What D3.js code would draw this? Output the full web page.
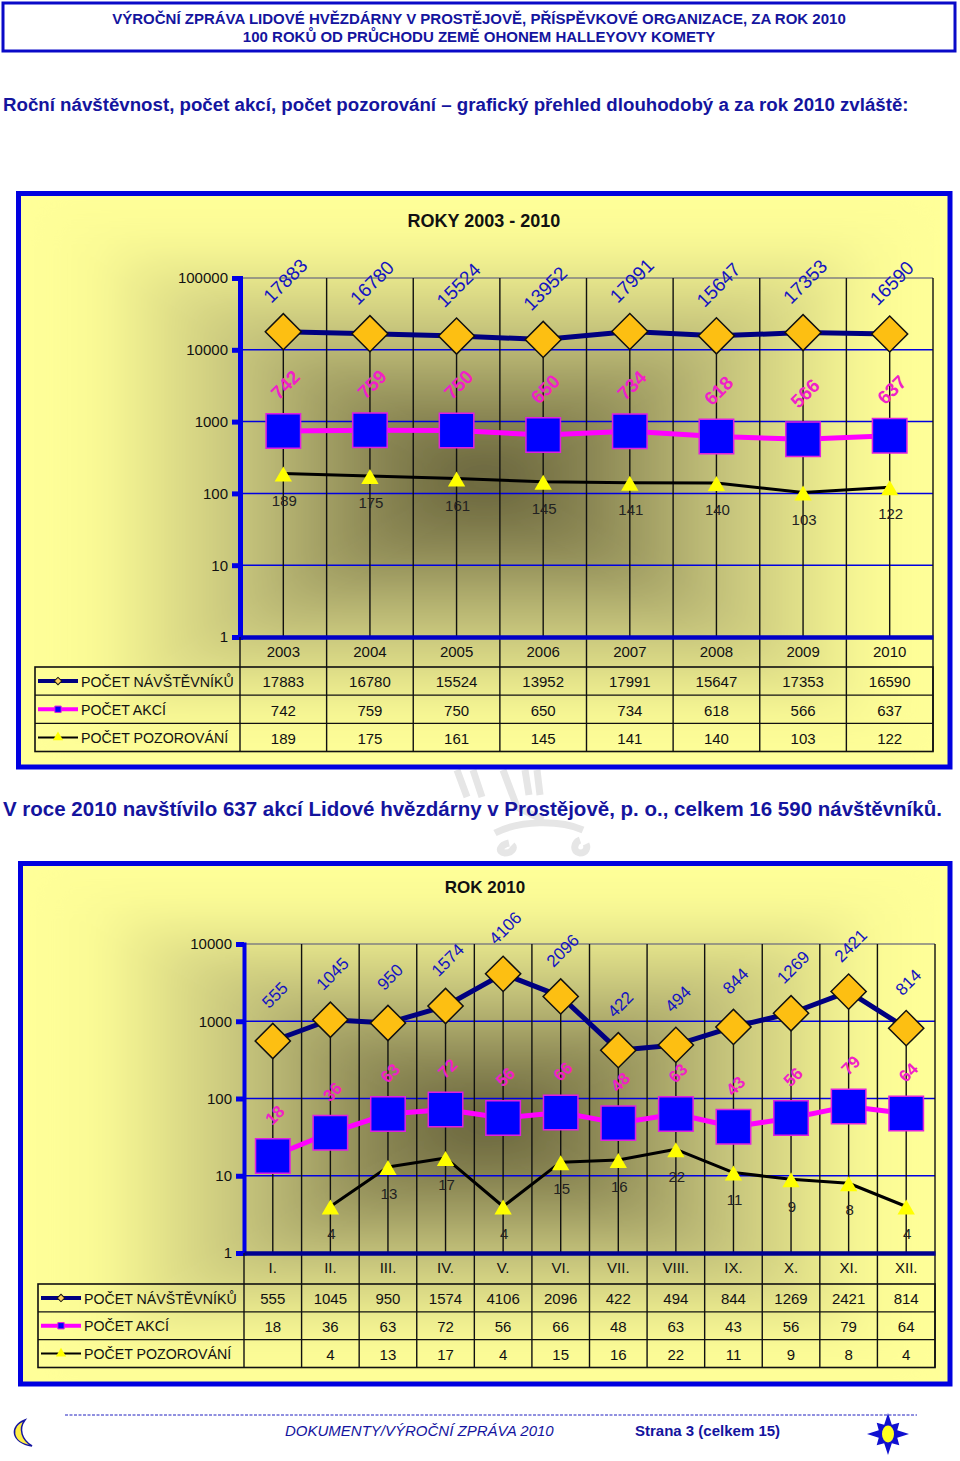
<!DOCTYPE html>
<html>
<head>
<meta charset="utf-8">
<script src="https://cdn.jsdelivr.net/npm/d3@7"></script>
<style>
  body { margin: 0; background: #fff; }
  svg { display: block; }
  text { font-family: "Liberation Sans", Arial, sans-serif; }
</style>
</head>
<body>
<div id="page"></div>
<script>
// roky 2003 - 2010
var years = ["2003", "2004", "2005", "2006", "2007", "2008", "2009", "2010"];
var yearVisitors = [17883, 16780, 15524, 13952, 17991, 15647, 17353, 16590];
var yearEvents = [742, 759, 750, 650, 734, 618, 566, 637];
var yearObservations = [189, 175, 161, 145, 141, 140, 103, 122];
var yearTicks = [1, 10, 100, 1000, 10000, 100000];

// rok 2010
var months = ["I.", "II.", "III.", "IV.", "V.", "VI.", "VII.", "VIII.", "IX.", "X.", "XI.", "XII."];
var monthVisitors = [555, 1045, 950, 1574, 4106, 2096, 422, 494, 844, 1269, 2421, 814];
var monthEvents = [18, 36, 63, 72, 56, 66, 48, 63, 43, 56, 79, 64];
var monthObservations = [null, 4, 13, 17, 4, 15, 16, 22, 11, 9, 8, 4];
var monthTicks = [1, 10, 100, 1000, 10000];

var seriesNames = ["POČET NÁVŠTĚVNÍKŮ", "POČET AKCÍ", "POČET POZOROVÁNÍ"];

var blue = "#0000e6";
var textBlue = "#14149e";

var svg = d3.select("#page").append("svg")
  .attr("width", 960)
  .attr("height", 1461);
var defs = svg.append("defs");

var blur = defs.append("filter")
  .attr("id", "soft")
  .attr("filterUnits", "userSpaceOnUse")
  .attr("x", 0).attr("y", 0).attr("width", 960).attr("height", 1461);
blur.append("feGaussianBlur").attr("stdDeviation", 22);

// hlavicka
svg.append("rect")
  .attr("x", 3).attr("y", 3).attr("width", 952).attr("height", 48)
  .attr("fill", "white").attr("stroke", "#0a0ac8").attr("stroke-width", 3);
svg.append("text").attr("x", 479).attr("y", 24).attr("text-anchor", "middle")
  .attr("font-size", 15).attr("font-weight", "bold").attr("fill", textBlue)
  .text("VÝROČNÍ ZPRÁVA LIDOVÉ HVĚZDÁRNY V PROSTĚJOVĚ, PŘÍSPĚVKOVÉ ORGANIZACE, ZA ROK 2010");
svg.append("text").attr("x", 479).attr("y", 42).attr("text-anchor", "middle")
  .attr("font-size", 15).attr("font-weight", "bold").attr("fill", textBlue)
  .text("100 ROKŮ OD PRŮCHODU ZEMĚ OHONEM HALLEYOVY KOMETY");

svg.append("text").attr("x", 3).attr("y", 111)
  .attr("font-size", 18.7).attr("font-weight", "bold").attr("fill", textBlue)
  .text("Roční návštěvnost, počet akcí, počet pozorování – grafický přehled dlouhodobý a za rok 2010 zvláště:");

// vodoznak mezi panely
svg.append("path")
  .attr("d", "M457,770 L467,797 M473,770 L482,797 M503,770 L517,807 L543,820 M525,770 L529,795 M537,770 L540,795 M495,833 C520,820 560,820 583,830 M509,843 C500,845 497,852 505,853 C512,853 515,848 512,845 M580,840 C574,842 572,852 580,853 C586,853 588,848 586,844")
  .attr("fill", "none").attr("stroke", "#e6e6e6").attr("stroke-width", 7);

svg.append("text").attr("x", 3).attr("y", 816)
  .attr("font-size", 20.5).attr("font-weight", "bold").attr("fill", textBlue)
  .text("V roce 2010 navštívilo 637 akcí Lidové hvězdárny v Prostějově, p. o., celkem 16 590 návštěvníků.");

// panel with a gradient running from the centre to all four edges
function drawPanel(id, x0, y0, x1, y1) {
  var cx = (x0 + x1) / 2, cy = (y0 + y1) / 2;
  var sides = [
    [[x0, y0], [x1, y0], [cx, y0]],
    [[x1, y0], [x1, y1], [x1, cy]],
    [[x1, y1], [x0, y1], [cx, y1]],
    [[x0, y1], [x0, y0], [x0, cy]]
  ];
  defs.append("clipPath").attr("id", id + "Clip").append("rect")
    .attr("x", x0).attr("y", y0).attr("width", x1 - x0).attr("height", y1 - y0);
  svg.append("rect")
    .attr("x", x0).attr("y", y0).attr("width", x1 - x0).attr("height", y1 - y0)
    .attr("fill", "#ffff99");
  var shade = svg.append("g").attr("clip-path", "url(#" + id + "Clip)")
    .append("g").attr("filter", "url(#soft)");
  sides.forEach(function(s, i) {
    var grad = defs.append("linearGradient")
      .attr("id", id + i)
      .attr("gradientUnits", "userSpaceOnUse")
      .attr("x1", s[2][0]).attr("y1", s[2][1])
      .attr("x2", cx).attr("y2", cy);
    grad.append("stop").attr("offset", 0).attr("stop-color", "#ffff99");
    grad.append("stop").attr("offset", 0.16).attr("stop-color", "#fcfc96");
    grad.append("stop").attr("offset", 0.5).attr("stop-color", "#c2c07a");
    grad.append("stop").attr("offset", 0.75).attr("stop-color", "#8e8a56");
    grad.append("stop").attr("offset", 1).attr("stop-color", "#625e38");
    shade.append("polygon")
      .attr("points", [s[0], s[1], [cx, cy]].join(" "))
      .attr("fill", "url(#" + id + i + ")");
  });
  svg.append("rect")
    .attr("x", x0).attr("y", y0).attr("width", x1 - x0).attr("height", y1 - y0)
    .attr("fill", "none").attr("stroke", "#0000e0").attr("stroke-width", 5);
}

function drawChart(c) {
  drawPanel(c.id, c.panel[0], c.panel[1], c.panel[2], c.panel[3]);

  svg.append("text")
    .attr("x", c.titleX).attr("y", c.titleY).attr("text-anchor", "middle")
    .attr("font-size", c.titleSize).attr("font-weight", "bold").attr("fill", "#111")
    .text(c.title);

  var x = d3.scaleBand().domain(c.categories).range([c.left, c.right]);
  var y = d3.scaleLog().domain([1, c.ticks[c.ticks.length - 1]]).range([c.bottom, c.top]);
  var mid = function(d) { return x(d) + x.bandwidth() / 2; };

  var series = [
    { values: c.visitors, color: "#000080", width: 5 },
    { values: c.events, color: "#ff00ff", width: 5 },
    { values: c.observations, color: "#000", width: 3 }
  ];

  // mrizka
  svg.append("g").selectAll("line")
    .data(c.ticks.slice(1))
    .join("line")
    .attr("x1", c.left).attr("x2", c.right)
    .attr("y1", d => y(d)).attr("y2", d => y(d))
    .attr("stroke", (d, i) => i === c.ticks.length - 2 ? "#808080" : "#0000e0")
    .attr("stroke-width", 1.5);

  var edges = c.categories.map(d => x(d) + x.bandwidth());
  svg.append("g").selectAll("line")
    .data(edges)
    .join("line")
    .attr("x1", d => d).attr("x2", d => d)
    .attr("y1", c.top).attr("y2", c.tableBottom)
    .attr("stroke", "#111").attr("stroke-width", 1.4);

  // drop lines from the top series to the axis
  svg.append("g").selectAll("line")
    .data(c.categories)
    .join("line")
    .attr("x1", d => mid(d)).attr("x2", d => mid(d))
    .attr("y1", (d, i) => y(c.visitors[i])).attr("y2", c.bottom)
    .attr("stroke", "#111").attr("stroke-width", 1.4);

  // osy
  var yAxis = svg.append("g")
    .attr("transform", "translate(" + c.left + ",0)")
    .call(d3.axisLeft(y).tickValues(c.ticks).tickFormat(d3.format("d")).tickSize(8).tickPadding(4));
  yAxis.select(".domain").attr("stroke", blue).attr("stroke-width", c.axisWidth);
  yAxis.selectAll(".tick line").attr("stroke", blue).attr("stroke-width", 5);
  yAxis.selectAll(".tick text").attr("font-size", c.tickSize).attr("fill", "#111")
    .style("font-family", '"Liberation Sans", Arial, sans-serif');

  var xAxis = svg.append("g")
    .attr("transform", "translate(0," + c.bottom + ")")
    .call(d3.axisBottom(x).tickSize(0).tickPadding(c.catPad));
  xAxis.select(".domain").attr("stroke", c.baseColor).attr("stroke-width", 4.5);
  xAxis.selectAll(".tick text").attr("font-size", c.cellSize).attr("fill", "#111")
    .style("font-family", '"Liberation Sans", Arial, sans-serif');

  // rady
  series.forEach(function(s) {
    var line = d3.line()
      .defined(d => d != null)
      .x((d, i) => mid(c.categories[i]))
      .y(d => y(d));
    svg.append("path")
      .attr("d", line(s.values))
      .attr("fill", "none")
      .attr("stroke", s.color)
      .attr("stroke-width", s.width)
      .attr("stroke-linejoin", "round");
  });

  var place = function(v, i) { return "translate(" + mid(c.categories[i]) + "," + y(v) + ")"; };

  svg.append("g").selectAll("path")
    .data(c.visitors)
    .join("path")
    .attr("d", d3.symbol(d3.symbolSquare, c.diamond))
    .attr("transform", (d, i) => place(d, i) + " rotate(45)")
    .attr("fill", "#fdbf12").attr("stroke", "#111").attr("stroke-width", 1.5);

  svg.append("g").selectAll("path")
    .data(c.events)
    .join("path")
    .attr("d", d3.symbol(d3.symbolSquare, c.square))
    .attr("transform", place)
    .attr("fill", "#0000ff").attr("stroke", "#e020e0").attr("stroke-width", 1.5);

  // missing months stay empty
  var observed = c.observations
    .map((d, i) => ({ v: d, cat: c.categories[i] }))
    .filter(d => d.v != null);

  svg.append("g").selectAll("path")
    .data(observed)
    .join("path")
    .attr("d", d3.symbol(d3.symbolTriangle, c.triangle))
    .attr("transform", d => "translate(" + mid(d.cat) + "," + (y(d.v) + 3) + ")")
    .attr("fill", "#ffff00");

  // popisky
  svg.append("g").selectAll("text")
    .data(c.visitors)
    .join("text")
    .attr("transform", (d, i) => "translate(" + (mid(c.categories[i]) + 2) + "," + (y(d) - c.offsets[0]) + ") rotate(-45)")
    .attr("text-anchor", "middle").attr("dy", "0.35em")
    .attr("font-size", c.labelSize).attr("fill", "#1414c0")
    .text(d => d);

  svg.append("g").selectAll("text")
    .data(c.events)
    .join("text")
    .attr("transform", (d, i) => "translate(" + (mid(c.categories[i]) + 2) + "," + (y(d) - c.offsets[1]) + ") rotate(-45)")
    .attr("text-anchor", "middle").attr("dy", "0.35em")
    .attr("font-size", c.labelSize).attr("fill", "#f020c8").attr("font-weight", "bold")
    .text(d => d);

  svg.append("g").selectAll("text")
    .data(observed)
    .join("text")
    .attr("x", d => mid(d.cat) + 1)
    .attr("y", d => y(d.v) + c.offsets[2])
    .attr("text-anchor", "middle").attr("dy", "0.35em")
    .attr("font-size", c.cellSize).attr("fill", "#222")
    .text(d => d.v);

  // tabulka pod grafem
  var rowY = d3.scaleBand().domain([0, 1, 2]).range([c.tableTop, c.tableBottom]);
  var table = svg.append("g");
  table.append("rect")
    .attr("x", c.tableLeft).attr("y", c.tableTop)
    .attr("width", c.right - c.tableLeft).attr("height", c.tableBottom - c.tableTop)
    .attr("fill", "none").attr("stroke", "#111").attr("stroke-width", 1.6);
  table.selectAll(".row")
    .data([1, 2])
    .join("line")
    .attr("x1", c.tableLeft).attr("x2", c.right)
    .attr("y1", d => rowY(d)).attr("y2", d => rowY(d))
    .attr("stroke", "#111").attr("stroke-width", 1.4);
  table.append("line")
    .attr("x1", c.left).attr("x2", c.left)
    .attr("y1", c.bottom).attr("y2", c.tableBottom)
    .attr("stroke", "#111").attr("stroke-width", 1.4);

  series.forEach(function(s, r) {
    var cy = rowY(r) + rowY.bandwidth() / 2;
    var g = table.append("g");
    g.append("line")
      .attr("x1", c.tableLeft + 3).attr("x2", c.tableLeft + 43)
      .attr("y1", cy).attr("y2", cy)
      .attr("stroke", s.color).attr("stroke-width", s.width - 1);
    var sym = g.append("path")
      .attr("transform", "translate(" + (c.tableLeft + 23) + "," + cy + ")" + (r === 0 ? " rotate(45)" : ""));
    if (r === 0) {
      sym.attr("d", d3.symbol(d3.symbolSquare, 28)).attr("fill", "#fdd060").attr("stroke", "#111");
    } else if (r === 1) {
      sym.attr("d", d3.symbol(d3.symbolSquare, 40)).attr("fill", "#0000ff").attr("stroke", "#e020e0");
    } else {
      sym.attr("d", d3.symbol(d3.symbolTriangle, 45)).attr("fill", "#ffff00");
    }
    g.append("text")
      .attr("x", c.tableLeft + 46).attr("y", cy).attr("dy", "0.4em")
      .attr("font-size", 14.2).attr("fill", "#111")
      .text(seriesNames[r]);

    g.selectAll(".cell")
      .data(s.values.map((d, i) => ({ v: d, cat: c.categories[i] })).filter(d => d.v != null))
      .join("text")
      .attr("x", d => mid(d.cat)).attr("y", cy).attr("dy", "0.42em")
      .attr("text-anchor", "middle")
      .attr("font-size", c.cellSize).attr("fill", "#111")
      .text(d => d.v);
  });
}

drawChart({
  id: "roky", title: "ROKY 2003 - 2010",
  panel: [18.5, 193.5, 950, 767], titleX: 484, titleY: 227, titleSize: 18,
  categories: years, visitors: yearVisitors, events: yearEvents, observations: yearObservations,
  ticks: yearTicks,
  left: 240, right: 933, top: 278, bottom: 637,
  tableLeft: 35, tableTop: 667, tableBottom: 751.5,
  diamond: 650, square: 1190, triangle: 130, axisWidth: 5, baseColor: "#0000c8",
  offsets: [51, 46, 27], labelSize: 19, cellSize: 15, tickSize: 15, catPad: 9
});

drawChart({
  id: "rok", title: "ROK 2010",
  panel: [20.5, 863.5, 950, 1384], titleX: 485, titleY: 893, titleSize: 17,
  categories: months, visitors: monthVisitors, events: monthEvents, observations: monthObservations,
  ticks: monthTicks,
  left: 244, right: 935, top: 944, bottom: 1253,
  tableLeft: 38, tableTop: 1284, tableBottom: 1367.5,
  diamond: 620, square: 1190, triangle: 130, axisWidth: 4, baseColor: "#000090",
  offsets: [46, 41, 27], labelSize: 17, cellSize: 15, tickSize: 15, catPad: 9
});

// paticka
svg.append("line")
  .attr("x1", 65).attr("x2", 917).attr("y1", 1415).attr("y2", 1415)
  .attr("stroke", "#2020c0").attr("stroke-width", 1).attr("stroke-dasharray", "3,1.5");
svg.append("text").attr("x", 285).attr("y", 1436)
  .attr("font-size", 15).attr("font-style", "italic").attr("fill", textBlue)
  .text("DOKUMENTY/VÝROČNÍ ZPRÁVA 2010");
svg.append("text").attr("x", 635).attr("y", 1436)
  .attr("font-size", 15).attr("font-weight", "bold").attr("fill", textBlue)
  .text("Strana 3 (celkem 15)");

// mesic
svg.append("path")
  .attr("d", "M25,1420 C9,1426 11,1443 32,1446 C22,1440 18,1429 25,1420 Z")
  .attr("fill", "#ffee44").attr("stroke", "#1414a0").attr("stroke-width", 1.5);

// slunce
var rays = d3.range(16).map(function(i) {
  var r = i % 2 ? 10 : (i % 4 === 0 ? 21 : 16);
  var a = i * Math.PI / 8;
  return [r * Math.sin(a), -r * Math.cos(a)];
});
var sun = svg.append("g").attr("transform", "translate(888,1434)");
sun.append("polygon").attr("points", rays.join(" ")).attr("fill", "#1010d0");
sun.append("ellipse").attr("rx", 6).attr("ry", 8.5).attr("fill", "#ffff20");
</script>
</body>
</html>
